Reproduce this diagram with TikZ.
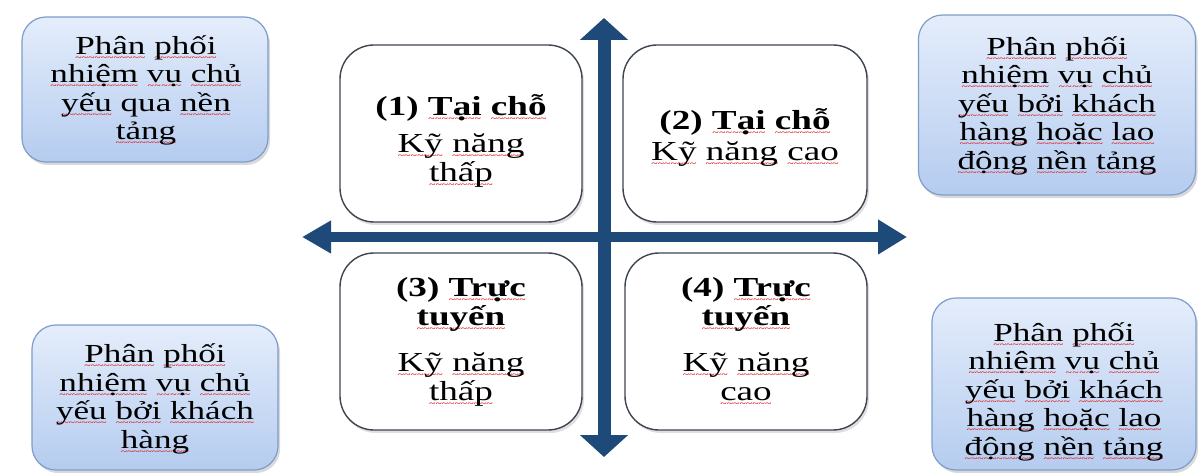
\documentclass[tikz,border=0pt]{standalone}
\usepackage{fontspec}
\setmainfont{Liberation Serif}[FakeStretch=1.35]
\usetikzlibrary{arrows.meta,shadows}

\definecolor{axisblue}{HTML}{1D4A78}
\definecolor{sidetop}{HTML}{E4EDFB}
\definecolor{sidebot}{HTML}{B5CCEF}
\definecolor{sideline}{HTML}{7E9DCB}
\definecolor{quadline}{HTML}{3E4550}
\definecolor{spellred}{HTML}{E02828}

% red wavy underline for a single word, built from repeated tildes
\newsavebox\wordbox
\newcommand\sq[1]{\sbox\wordbox{#1}%
  \rlap{\lower6pt\hbox to\wd\wordbox{\color{spellred}\fontsize{8.5}{8.5}\selectfont\bfseries\xleaders\hbox{\char"7E}\hfil}}\usebox\wordbox}

\tikzset{
  sidebox/.style={rounded corners=24pt, draw=sideline, line width=1.2pt,
    top color=sidetop, bottom color=sidebot,
    drop shadow={opacity=0.3, shadow xshift=2pt, shadow yshift=-3pt}},
  quadbox/.style={rounded corners=34pt, draw=quadline, line width=1.4pt, fill=white,
    drop shadow={opacity=0.25, shadow xshift=2pt, shadow yshift=-3pt}},
  sidetext/.style={align=center, inner sep=0pt, font=\fontsize{26}{28.5}\selectfont},
  quadtext/.style={align=center, inner sep=0pt, font=\fontsize{27.5}{29}\selectfont},
  axis/.style={draw=axisblue, fill=axisblue}
}

\begin{document}
\begin{tikzpicture}[x=1pt, y=-1pt]
\useasboundingbox (0,0) rectangle (1198,473);

% axes
\coordinate (hl) at (302,237);
\coordinate (hr) at (907,237);
\coordinate (vt) at (604,18);
\coordinate (vb) at (604,457);
\draw[axis, line width=10pt, {Triangle[length=29pt,width=31pt]}-{Triangle[length=29pt,width=33pt]}] (hl) -- (hr);
\draw[axis, line width=13pt, {Triangle[length=22pt,width=47pt]}-{Triangle[length=22pt,width=47pt]}] (vb) -- (vt);

% quadrant boxes
\node[quadbox, minimum width=242pt, minimum height=177pt] (q1) at (461,133.5) {};
\node[quadbox, minimum width=244pt, minimum height=177pt] (q2) at (745,133.5) {};
\node[quadbox, minimum width=242pt, minimum height=177pt] (q3) at (461,341.5) {};
\node[quadbox, minimum width=242pt, minimum height=177pt] (q4) at (746,341.5) {};

\node[quadtext] (q1t) at (461,141) {\textbf{(1) \sq{Tại} \sq{chỗ}}\\[8pt] \sq{Kỹ} \sq{năng}\\ \sq{thấp}};
\node[quadtext] (q2t) at (745,138) {\textbf{(2) \sq{Tại} \sq{chỗ}}\\[2pt] \sq{Kỹ} \sq{năng} \sq{cao}};
\node[quadtext] (q3t) at (461,342) {\textbf{(3) \sq{Trực}}\\ \textbf{\sq{tuyến}}\\[17pt] \sq{Kỹ} \sq{năng}\\ \sq{thấp}};
\node[quadtext] (q4t) at (746,342) {\textbf{(4) \sq{Trực}}\\ \textbf{\sq{tuyến}}\\[17pt] \sq{Kỹ} \sq{năng}\\ \sq{cao}};

% side boxes
\node[sidebox, minimum width=246pt, minimum height=145pt] (s1) at (145,89.5) {};
\node[sidebox, minimum width=277pt, minimum height=180pt] (s2) at (1057,105) {};
\node[sidebox, minimum width=246pt, minimum height=145pt] (s3) at (155,397.5) {};
\node[sidebox, minimum width=264pt, minimum height=172pt] (s4) at (1064,384) {};

\node[sidetext] (s1t) at (146,90.5) {\sq{Phân} \sq{phối}\\ \sq{nhiệm} \sq{vụ} \sq{chủ}\\ \sq{yếu} qua \sq{nền}\\ \sq{tảng}};
\node[sidetext] (s2t) at (1057,106) {\sq{Phân} \sq{phối}\\ \sq{nhiệm} \sq{vụ} \sq{chủ}\\ \sq{yếu} \sq{bởi} \sq{khách}\\ \sq{hàng} \sq{hoặc} \sq{lao}\\ \sq{động} \sq{nền} \sq{tảng}};
\node[sidetext] (s3t) at (155,399) {\sq{Phân} \sq{phối}\\ \sq{nhiệm} \sq{vụ} \sq{chủ}\\ \sq{yếu} \sq{bởi} \sq{khách}\\ \sq{hàng}};
\node[sidetext] (s4t) at (1064,392) {\sq{Phân} \sq{phối}\\ \sq{nhiệm} \sq{vụ} \sq{chủ}\\ \sq{yếu} \sq{bởi} \sq{khách}\\ \sq{hàng} \sq{hoặc} \sq{lao}\\ \sq{động} \sq{nền} \sq{tảng}};
\end{tikzpicture}
\end{document}
